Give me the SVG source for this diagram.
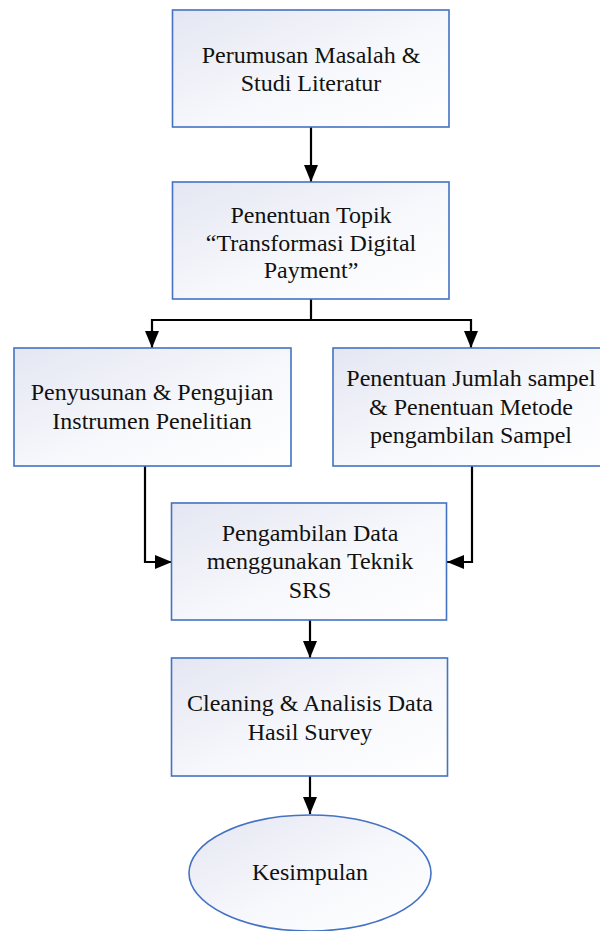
<svg xmlns="http://www.w3.org/2000/svg" width="600" height="931" viewBox="0 0 600 931">
  <defs>
    <linearGradient id="boxFill" x1="0" y1="0" x2="1" y2="1">
      <stop offset="0" stop-color="#e4e6f2"/>
      <stop offset="0.55" stop-color="#f7f8fc"/>
      <stop offset="1" stop-color="#ffffff"/>
    </linearGradient>
    <marker id="arrow" viewBox="0 0 17 14" refX="17" refY="7" markerWidth="17" markerHeight="14" markerUnits="userSpaceOnUse" orient="auto">
      <path d="M0,0 L17,7 L0,14 Z" fill="#000"/>
    </marker>
    <style>
      .box { fill: url(#boxFill); stroke: #4472c4; stroke-width: 1.6; }
      .lbl { font-family: "Liberation Serif", "DejaVu Serif", serif; font-size: 24px; fill: #111; text-anchor: middle; }
      .conn { fill: none; stroke: #000; stroke-width: 2.2; marker-end: url(#arrow); }
      .plain { fill: none; stroke: #000; stroke-width: 2.2; }
    </style>
  </defs>
  <rect width="600" height="931" fill="#fff"/>

  <g id="connectors">
    <path class="conn" d="M311,127 V182"/>
    <path class="plain" d="M311,299 V320"/>
    <path class="conn" d="M311,320 H152 V348"/>
    <path class="conn" d="M311,320 H471 V348"/>
    <path class="conn" d="M145,466 V562 H172"/>
    <path class="conn" d="M472,466 V562 H447"/>
    <path class="conn" d="M310,620 V658"/>
    <path class="conn" d="M310,776 V814"/>
  </g>

  <g id="perumusan">
    <rect class="box" x="172.5" y="10" width="276.5" height="117"/>
    <text class="lbl" x="311" y="63">Perumusan Masalah &amp;</text>
    <text class="lbl" x="311" y="91">Studi Literatur</text>
  </g>

  <g id="topik">
    <rect class="box" x="172.5" y="182" width="276.5" height="117"/>
    <text class="lbl" x="311" y="223">Penentuan Topik</text>
    <text class="lbl" x="311" y="251">“Transformasi Digital</text>
    <text class="lbl" x="311" y="278">Payment”</text>
  </g>

  <g id="instrumen">
    <rect class="box" x="14" y="348" width="277" height="118"/>
    <text class="lbl" x="152" y="400">Penyusunan &amp; Pengujian</text>
    <text class="lbl" x="152" y="429">Instrumen Penelitian</text>
  </g>

  <g id="sampel">
    <rect class="box" x="333" y="348" width="277" height="118"/>
    <text class="lbl" x="471" y="386">Penentuan Jumlah sampel</text>
    <text class="lbl" x="471" y="415">&amp; Penentuan Metode</text>
    <text class="lbl" x="471" y="443">pengambilan Sampel</text>
  </g>

  <g id="pengambilan">
    <rect class="box" x="171.5" y="503" width="275" height="117"/>
    <text class="lbl" x="310" y="541">Pengambilan Data</text>
    <text class="lbl" x="310" y="569">menggunakan Teknik</text>
    <text class="lbl" x="310" y="598">SRS</text>
  </g>

  <g id="cleaning">
    <rect class="box" x="171.5" y="658" width="276" height="118"/>
    <text class="lbl" x="310" y="711">Cleaning &amp; Analisis Data</text>
    <text class="lbl" x="310" y="740">Hasil Survey</text>
  </g>

  <g id="kesimpulan">
    <ellipse class="box" cx="310" cy="873" rx="121" ry="58"/>
    <text class="lbl" x="310" y="880">Kesimpulan</text>
  </g>
</svg>
